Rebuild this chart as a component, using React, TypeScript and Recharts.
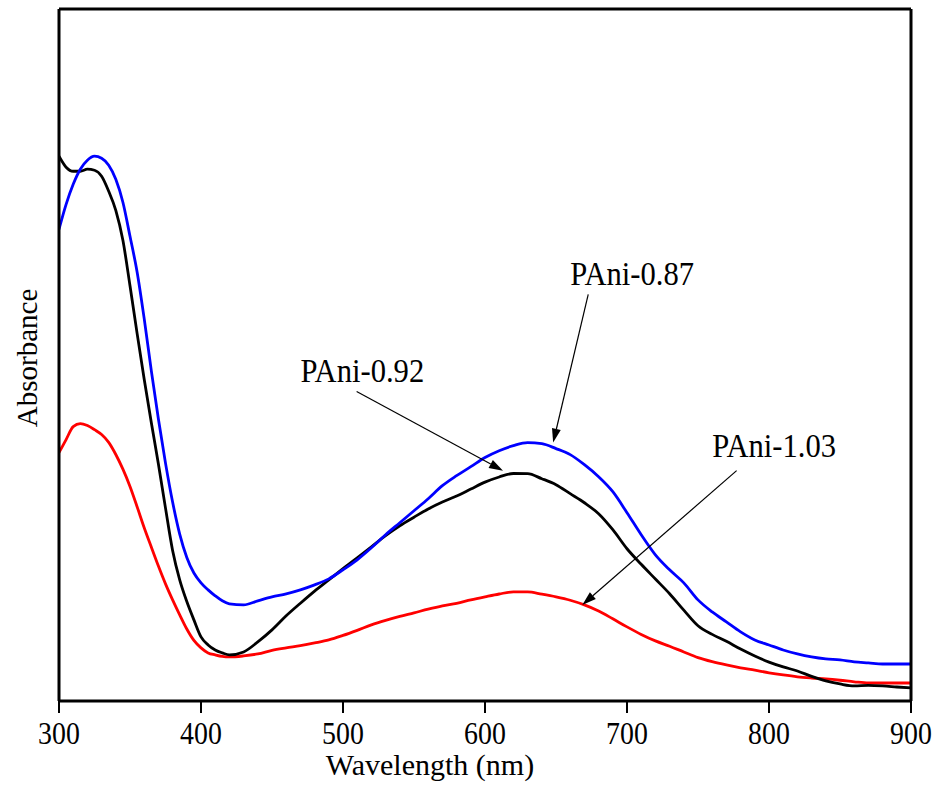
import { LineChart, Line, XAxis, YAxis, ReferenceLine, ReferenceDot, Customized } from 'recharts';

const FONT = '"Liberation Serif", "Times New Roman", serif';

// wavelength (nm): 5 nm steps over the steep part, 10 nm after
const wavelength = [
  300, 305, 310, 315, 320, 325, 330, 335, 340, 345, 350, 355, 360, 365, 370, 375, 380, 385, 390, 395, 400, 405, 410, 415, 420,
  430, 440, 450, 460, 470, 480, 490, 500, 510, 520, 530, 540, 550, 560, 570, 580, 590, 600, 610, 620, 630, 640, 650, 660, 670,
  680, 690, 700, 710, 720, 730, 740, 750, 760, 770, 780, 790, 800, 810, 820, 830, 840, 850, 860, 870, 880, 890, 900,
];

// absorbance (a.u.)
const pani087 = [
  5.453, 5.742, 5.974, 6.148, 6.252, 6.298, 6.275, 6.194, 6.032, 5.766, 5.372, 4.96, 4.42, 3.82, 3.26, 2.75, 2.3, 1.93, 1.66, 1.48, 1.366, 1.285, 1.216, 1.158, 1.123,
  1.111, 1.158, 1.204, 1.239, 1.285, 1.343, 1.412, 1.517, 1.632, 1.771, 1.922, 2.061, 2.2, 2.339, 2.489, 2.605, 2.709, 2.815, 2.894, 2.952, 2.987, 2.975, 2.918, 2.848, 2.732,
  2.593, 2.42, 2.177, 1.922, 1.69, 1.517, 1.366, 1.169, 1.03, 0.915, 0.799, 0.706, 0.648, 0.59, 0.544, 0.509, 0.486, 0.475, 0.452, 0.44, 0.428, 0.428, 0.428,
];

const pani092 = [
  6.298, 6.171, 6.124, 6.124, 6.148, 6.136, 6.067, 5.893, 5.673, 5.326, 4.8, 4.25, 3.72, 3.22, 2.74, 2.23, 1.74, 1.4, 1.15, 0.938, 0.741, 0.648, 0.59, 0.556, 0.533,
  0.567, 0.683, 0.822, 0.985, 1.13, 1.27, 1.4, 1.53, 1.656, 1.783, 1.912, 2.026, 2.125, 2.22, 2.3, 2.37, 2.45, 2.53, 2.59, 2.63, 2.628, 2.57, 2.501, 2.397, 2.292,
  2.165, 1.98, 1.76, 1.58, 1.41, 1.24, 1.05, 0.87, 0.77, 0.69, 0.6, 0.52, 0.45, 0.394, 0.347, 0.285, 0.232, 0.197, 0.174, 0.18, 0.174, 0.162, 0.151,
];

const pani103 = [
  2.871, 3.022, 3.172, 3.207, 3.184, 3.137, 3.08, 2.99, 2.85, 2.68, 2.48, 2.246, 2.003, 1.78, 1.56, 1.354, 1.169, 0.996, 0.832, 0.7, 0.614, 0.556, 0.533, 0.515, 0.509,
  0.521, 0.544, 0.585, 0.614, 0.64, 0.671, 0.706, 0.758, 0.817, 0.88, 0.932, 0.978, 1.019, 1.062, 1.1, 1.13, 1.169, 1.204, 1.237, 1.262, 1.262, 1.235, 1.204, 1.165, 1.111,
  1.04, 0.95, 0.857, 0.77, 0.695, 0.633, 0.567, 0.502, 0.455, 0.417, 0.384, 0.356, 0.326, 0.301, 0.28, 0.266, 0.255, 0.24, 0.222, 0.208, 0.208, 0.208, 0.208,
];

const xTicks = [300, 400, 500, 600, 700, 800, 900];
const xMinorTicks = [350, 450, 550, 650, 750, 850];
const xTopTicks = [360, 420, 480, 540, 600, 660, 720, 780, 840];
const leftTicks = [0, 1, 2, 3, 4, 5, 6, 7, 8];
const rightTicks = [0, 1, 2, 3, 4, 5, 6, 7, 8, 9, 10];

// labels and arrows, in data units
const labels = [
  { text: 'PAni-0.87', wl: 660, a: 4.805 },
  { text: 'PAni-0.92', wl: 470, a: 3.682 },
  { text: 'PAni-1.03', wl: 760, a: 2.825 },
];
const arrows = [
  { x1: 672.7, y1: 4.7, x2: 648, y2: 2.987 },
  { x1: 509.6, y1: 3.577, x2: 612.7, y2: 2.663 },
  { x1: 777.2, y1: 2.663, x2: 668.5, y2: 1.111 },
];

const data = wavelength.map((wl, i) => ({ wl, blue: pani087[i], black: pani092[i], red: pani103[i] }));

// arrow with a filled head at the end
function Arrow(props: any) {
  const { x1, y1, x2, y2 } = props;
  const dx = x2 - x1;
  const dy = y2 - y1;
  const len = Math.sqrt(dx * dx + dy * dy);
  const ux = dx / len;
  const uy = dy / len;
  const hl = 14;
  const hw = 4.5;
  const bx = x2 - ux * hl;
  const by = y2 - uy * hl;
  const pts = `${x2},${y2} ${bx - uy * hw},${by + ux * hw} ${bx + uy * hw},${by - ux * hw}`;
  return (
    <g>
      <line x1={x1} y1={y1} x2={bx} y2={by} stroke="#000" strokeWidth={1.2} />
      <polygon points={pts} fill="#000" />
    </g>
  );
}

function BottomTick(props: any) {
  const { x, y, payload } = props;
  return (
    <text x={x} y={y + 31} textAnchor="middle" fontFamily={FONT} fontSize={32} fill="#000"
      transform={`translate(${x},0) scale(0.87,1) translate(${-x},0)`}>
      {payload.value}
    </text>
  );
}

function Titles() {
  return (
    <g fontFamily={FONT} fill="#000">
      <text x={430} y={775} textAnchor="middle" fontSize={30}>Wavelength (nm)</text>
      <text transform="translate(37,358) rotate(-90)" textAnchor="middle" fontSize={29}>Absorbance</text>
    </g>
  );
}

const axisLine = { stroke: '#000', strokeWidth: 3 };
const tickLine = { stroke: '#000', strokeWidth: 2 };

export default function App() {
  return (
    <div style={{ position: 'absolute', left: 0, top: 0, background: '#fff' }}>
      <LineChart width={939} height={794} data={data} margin={{ top: 9, right: 28, bottom: 91, left: 59 }}>
        <XAxis xAxisId="main" dataKey="wl" type="number" domain={[300, 900]} allowDataOverflow ticks={xTicks} interval={0}
          height={1} tickSize={12} tickMargin={0} tick={<BottomTick />} axisLine={axisLine} tickLine={tickLine} />
        <XAxis xAxisId="minor" type="number" domain={[300, 900]} allowDataOverflow ticks={xMinorTicks} interval={0}
          height={1} tickSize={7} tick={false} axisLine={false} tickLine={tickLine} />
        <XAxis xAxisId="top" orientation="top" type="number" domain={[300, 900]} allowDataOverflow ticks={xTopTicks} interval={0}
          height={1} mirror tickSize={3} tick={false} axisLine={axisLine} tickLine={tickLine} />
        <YAxis yAxisId="left" type="number" domain={[0, 8]} allowDataOverflow ticks={leftTicks} interval={0}
          width={1} mirror tickSize={4} tick={false} axisLine={axisLine} tickLine={tickLine} />
        <YAxis yAxisId="right" orientation="right" type="number" domain={[0, 10]} allowDataOverflow ticks={rightTicks} interval={0}
          width={1} mirror tickSize={4} tick={false} axisLine={axisLine} tickLine={tickLine} />

        <Line xAxisId="main" yAxisId="left" type="monotone" dataKey="red" stroke="#ff0000" strokeWidth={2.8} dot={false} isAnimationActive={false} />
        <Line xAxisId="main" yAxisId="left" type="monotone" dataKey="black" stroke="#000000" strokeWidth={2.8} dot={false} isAnimationActive={false} />
        <Line xAxisId="main" yAxisId="left" type="monotone" dataKey="blue" stroke="#0000ff" strokeWidth={2.8} dot={false} isAnimationActive={false} />

        {arrows.map((a, i) => (
          <ReferenceLine key={'arr' + i} xAxisId="main" yAxisId="left"
            segment={[{ x: a.x1, y: a.y1 }, { x: a.x2, y: a.y2 }]}
            shape={(p: any) => <Arrow {...p} />} />
        ))}
        {labels.map((l, i) => (
          <ReferenceDot key={'lab' + i} xAxisId="main" yAxisId="left" x={l.wl} y={l.a}
            shape={(p: any) => (
              <text x={p.cx} y={p.cy} fontFamily={FONT} fontSize={34} fill="#000"
                transform={`translate(${p.cx},0) scale(0.9,1) translate(${-p.cx},0)`}>
                {l.text}
              </text>
            )} />
        ))}
        <Customized component={Titles} />
      </LineChart>
    </div>
  );
}
